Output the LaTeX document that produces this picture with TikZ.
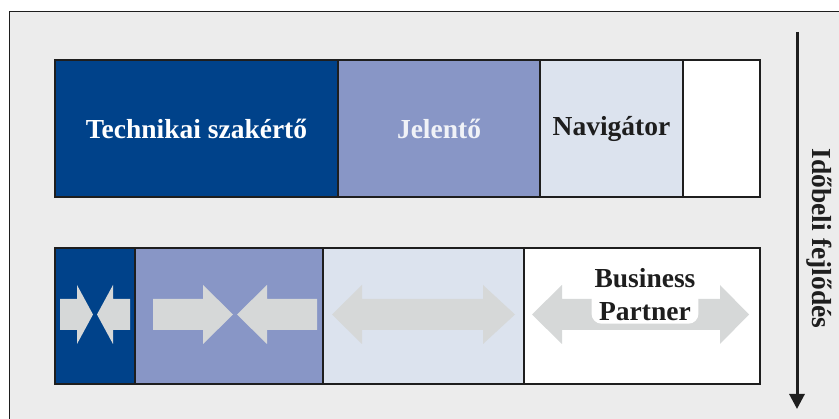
\documentclass[tikz,border=0pt]{standalone}
\usepackage{fontspec}
\setmainfont{Liberation Serif}
\usetikzlibrary{arrows.meta}
\definecolor{bgray}{RGB}{236,236,236}
\definecolor{dblue}{RGB}{0,66,138}
\definecolor{mblue}{RGB}{136,150,198}
\definecolor{lblue}{RGB}{220,227,238}
\definecolor{agray}{RGB}{214,216,216}
\definecolor{ink}{RGB}{30,30,30}
\newcommand{\myArrowR}[3]{\fill[agray] (#1,299)--(#2,299)--(#2,285)--(#3,314.5)--(#2,344)--(#2,330)--(#1,330)--cycle;}
\newcommand{\myArrowD}[4]{\fill[agray] (#1,314.5)--(#2,285)--(#2,299)--(#3,299)--(#3,285)--(#4,314.5)--(#3,344)--(#3,330)--(#2,330)--(#2,344)--cycle;}
\tikzset{
  cell/.style={draw=ink, line width=1.8pt, anchor=north west, inner sep=0pt, outer sep=0pt},
  lbl/.style={font=\fontsize{27.5}{33}\selectfont\bfseries, inner sep=0pt, align=center},
}
\begin{document}
\begin{tikzpicture}[x=1pt,y=-1pt]
\useasboundingbox (0,0) rectangle (839,419);
\clip (0,0) rectangle (839,419);
\fill[white] (0,0) rectangle (839,419);
\draw[fill=bgray, draw=ink, line width=1pt] (9,12) rectangle (850,430);
% top bar
\node[cell, fill=dblue, minimum width=283pt, minimum height=137pt] (t1) at (55,60) {};
\node[cell, fill=mblue, minimum width=202pt, minimum height=137pt] (t2) at (338,60) {};
\node[cell, fill=lblue, minimum width=143pt, minimum height=137pt] (t3) at (540,60) {};
\node[cell, fill=white, minimum width=77pt, minimum height=137pt] (t4) at (683,60) {};
\node[lbl, text=white] (l1) at (t1.center) {Technikai szakértő};
\node[lbl, text={rgb,255:red,240;green,242;blue,247}] (l2) at (t2.center) {Jelentő};
\node[lbl, text=ink] (l3) at (t3.center) {Navigátor};
% bottom bar
\node[cell, fill=dblue, minimum width=80pt, minimum height=136pt] (b1) at (55,248) {};
\node[cell, fill=mblue, minimum width=188pt, minimum height=136pt] (b2) at (135,248) {};
\node[cell, fill=lblue, minimum width=201pt, minimum height=136pt] (b3) at (323,248) {};
\node[cell, fill=white, minimum width=236pt, minimum height=136pt] (b4) at (524,248) {};
% arrows
\myArrowR{60}{77}{93}
\myArrowR{130}{113}{97}
\myArrowR{153}{203}{233}
\myArrowR{317}{267}{237}
\myArrowD{332}{362}{483}{515}
\myArrowD{532}{562}{720}{749}
\node[lbl, text=ink, fill=white, inner sep=3pt, rounded corners=10pt] (bp) at (645,294.5) {Business\\Partner};
% time arrow
\coordinate (ts) at (797,32);
\coordinate (te) at (797,409);
\draw[ink, line width=3pt, -{Triangle[width=15pt,length=15pt]}] (ts) -- (te);
\node[lbl, text=ink, rotate=-90] (tl) at (819,238.5) {Időbeli fejlődés};
\end{tikzpicture}
\end{document}
